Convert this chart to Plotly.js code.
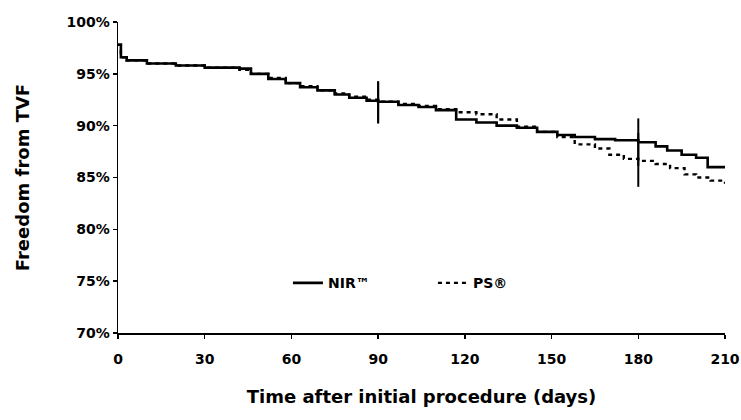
<!DOCTYPE html>
<html>
<head>
<meta charset="utf-8">
<script src="https://cdn.plot.ly/plotly-3.0.1.min.js"></script>
<style>html,body{margin:0;padding:0;background:#fff;}#chart{width:741px;height:420px;}</style>
</head>
<body>
<div id="chart"></div>
<script>
// Time (days) and freedom from TVF (%)
const daysNIR = [0, 1, 3, 10, 20, 30, 42, 46, 52, 58, 63, 69, 75, 80, 86, 90, 97, 104, 110, 117, 124, 131, 138, 145, 152, 158, 165, 172, 180, 186, 190, 195, 200, 204, 210];
const nirValues = [97.8, 96.6, 96.3, 96.0, 95.8, 95.6, 95.5, 95.0, 94.5, 94.1, 93.7, 93.4, 93.0, 92.7, 92.4, 92.3, 92.0, 91.8, 91.5, 90.6, 90.3, 90.0, 89.8, 89.4, 89.1, 88.9, 88.7, 88.6, 88.4, 88.0, 87.6, 87.2, 86.9, 86.0, 85.9];
const daysPS = [0, 1, 3, 10, 20, 30, 42, 46, 52, 58, 63, 69, 75, 80, 86, 90, 97, 104, 110, 117, 124, 131, 138, 145, 152, 158, 165, 170, 175, 180, 186, 191, 196, 200, 205, 210];
const psValues = [97.8, 96.6, 96.3, 96.0, 95.8, 95.6, 95.4, 95.0, 94.6, 94.1, 93.8, 93.4, 93.1, 92.8, 92.5, 92.3, 92.1, 91.9, 91.6, 91.3, 91.1, 90.6, 89.9, 89.4, 88.9, 88.2, 87.8, 87.2, 86.8, 86.6, 86.3, 85.9, 85.3, 85.0, 84.7, 84.4];
// Confidence interval bars
const ciDays = [90, 180];
const nirCI = [92.3, 88.4];
const nirCIHalf = [2.0, 2.3];
const psCI = [92.2, 86.7];
const psCIHalf = [2.0, 2.6];
// Labels
const seriesNames = ['NIR™', 'PS®'];
const xTicks = [0, 30, 60, 90, 120, 150, 180, 210];
const yTicks = [70, 75, 80, 85, 90, 95, 100];
const yTickText = ['70%', '75%', '80%', '85%', '90%', '95%', '100%'];

const FONT = 'DejaVu Sans, Arial, sans-serif';

const traces = [
  {x: daysNIR, y: nirValues, name: seriesNames[0], mode: 'lines', type: 'scatter',
   line: {color: '#000', width: 2.6, shape: 'hv'}},
  {x: daysPS, y: psValues, name: seriesNames[1], mode: 'lines', type: 'scatter',
   line: {color: '#000', width: 2.4, shape: 'hv', dash: '4px,4px'}},
  {x: ciDays, y: nirCI, mode: 'markers', type: 'scatter', showlegend: false, hoverinfo: 'skip',
   marker: {size: 1, opacity: 0},
   error_y: {type: 'data', array: nirCIHalf, visible: true, color: '#000', thickness: 2, width: 0}},
  {x: ciDays, y: psCI, mode: 'markers', type: 'scatter', showlegend: false, hoverinfo: 'skip',
   marker: {size: 1, opacity: 0},
   error_y: {type: 'data', array: psCIHalf, visible: true, color: '#000', thickness: 2, width: 0}}
];

const layout = {
  width: 741, height: 420,
  margin: {l: 118, r: 16, t: 22, b: 87},
  paper_bgcolor: '#fff', plot_bgcolor: '#fff',
  font: {family: FONT, color: '#000', size: 14, weight: 'bold'},
  showlegend: true,
  legend: {orientation: 'h', x: 0.28, y: 0.16, xanchor: 'left', yanchor: 'middle',
    bgcolor: 'rgba(0,0,0,0)', font: {family: FONT, size: 14, weight: 'bold'},
    entrywidth: 100, entrywidthmode: 'pixels'},
  xaxis: {
    range: [0, 210], tickvals: xTicks, ticktext: xTicks.map(String),
    showline: true, linecolor: '#000', linewidth: 1.5, mirror: false,
    ticks: 'outside', ticklen: 4, tickwidth: 1.5, tickcolor: '#000',
    showgrid: false, zeroline: false, ticklabelstandoff: 9,
    tickfont: {family: FONT, size: 14, weight: 'bold'},
    title: {text: 'Time after initial procedure (days)', font: {family: FONT, size: 18, weight: 'bold'}, standoff: 24}
  },
  yaxis: {
    range: [70, 100], tickvals: yTicks, ticktext: yTickText,
    showline: true, linecolor: '#000', linewidth: 1.5,
    ticks: 'outside', ticklen: 4, tickwidth: 1.5, tickcolor: '#000',
    showgrid: false, zeroline: false,
    tickfont: {family: FONT, size: 14, weight: 'bold'},
    title: {text: 'Freedom from TVF', font: {family: FONT, size: 18, weight: 'bold'}, standoff: 32}
  }
};

Plotly.newPlot('chart', traces, layout, {displayModeBar: false, staticPlot: true});
</script>
</body>
</html>
